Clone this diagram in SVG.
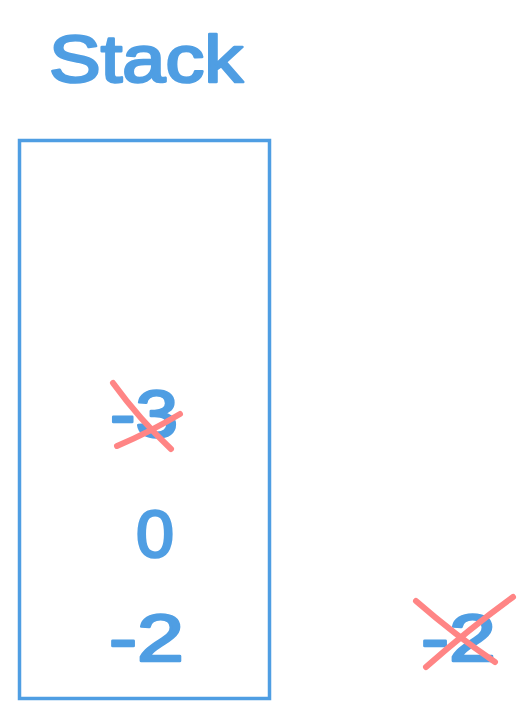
<svg xmlns="http://www.w3.org/2000/svg" width="532" height="720" viewBox="0 0 532 720">
<style>
.t{font-family:"Liberation Sans",Arial,sans-serif;fill:#4f9ee3;stroke:#4f9ee3;stroke-width:2.5;stroke-linejoin:round}
.x{stroke:#ff8585;stroke-width:6;stroke-linecap:round;fill:none}
</style>
<rect width="532" height="720" fill="#ffffff"/>
<g id="title"><text class="t" x="49" y="82" font-size="66" textLength="194" lengthAdjust="spacingAndGlyphs">Stack</text></g>
<g id="stack"><rect x="19.5" y="140.5" width="250" height="558" fill="none" stroke="#4f9ee3" stroke-width="3.5"/></g>
<g id="item-3"><text class="t" x="110" y="437" font-size="66" textLength="68" lengthAdjust="spacingAndGlyphs">-3</text></g>
<g id="item0"><text class="t" x="136" y="557" font-size="66" textLength="38" lengthAdjust="spacingAndGlyphs">0</text></g>
<g id="item-2"><text class="t" x="109" y="661" font-size="66" textLength="75" lengthAdjust="spacingAndGlyphs">-2</text></g>
<g id="popped"><text class="t" x="421" y="661" font-size="66" textLength="75" lengthAdjust="spacingAndGlyphs">-2</text></g>
<g id="connectors">
<path class="x" d="M113 383 Q140 420 171 449"/>
<path class="x" d="M117 446 Q150 432 180 414"/>
<path class="x" d="M416 601 Q455 635 495 662"/>
<path class="x" d="M426 667 Q470 628 513 597"/>
</g>
</svg>
